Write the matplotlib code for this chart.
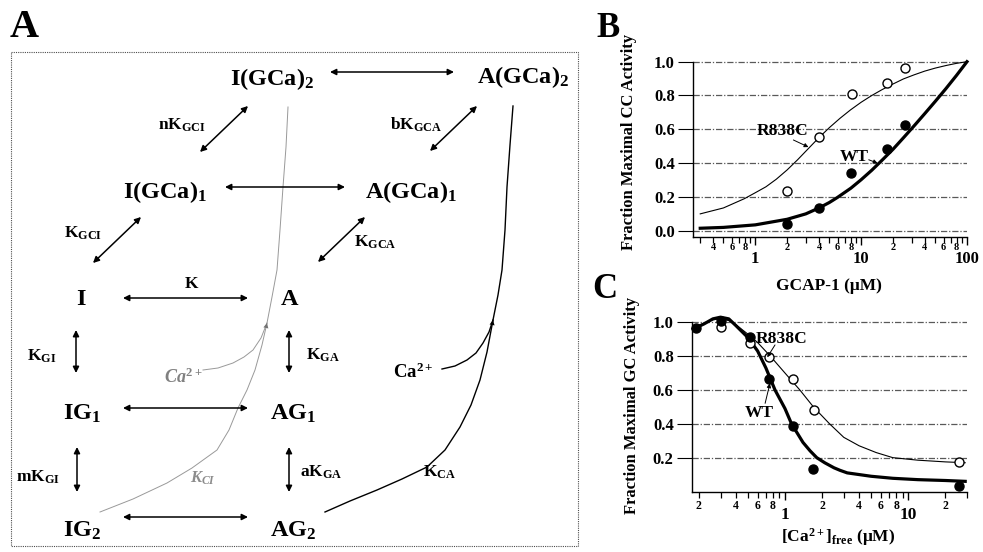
import math
import matplotlib
matplotlib.use('Agg')
import matplotlib.pyplot as plt
from matplotlib.patches import Rectangle
from matplotlib.ticker import FixedLocator, FixedFormatter

plt.rcParams['font.family'] = ['Liberation Serif', 'DejaVu Serif']
plt.rcParams['font.weight'] = 'bold'
plt.rcParams['axes.labelweight'] = 'bold'
plt.rcParams['mathtext.fontset'] = 'custom'
plt.rcParams['mathtext.rm'] = 'Liberation Serif:bold'
plt.rcParams['mathtext.bf'] = 'Liberation Serif:bold'
plt.rcParams['mathtext.it'] = 'Liberation Serif:italic'
plt.rcParams['mathtext.default'] = 'bf'

# ---------------- panel A: reaction scheme (pixel layout of the drawing) -------------
node_labels = ['I(GCa)$_2$', 'A(GCa)$_2$', 'I(GCa)$_1$', 'A(GCa)$_1$',
               'I', 'A', 'IG$_1$', 'AG$_1$', 'IG$_2$', 'AG$_2$']
node_xy = [(230, 85), (477, 83), (123, 198), (365, 198),
           (81, 305), (290, 305), (63, 420), (270, 420), (63, 537), (270, 537)]
node_ha = ['left', 'left', 'left', 'left', 'center', 'center',
           'left', 'left', 'left', 'left']

# two-headed arrows (start, end)
link_ends = [((330, 72), (454, 72)), ((225, 187), (345, 187)),
             ((123, 298), (248, 298)), ((123, 408), (248, 408)),
             ((123, 517), (248, 517)),
             ((200, 152), (248, 106)), ((430, 151), (477, 106)),
             ((93, 263), (141, 217)), ((318, 262), (365, 217)),
             ((76, 330), (76, 373)), ((77, 447), (77, 492)),
             ((289, 330), (289, 373)), ((289, 447), (289, 492))]

const_labels = ['nK$_{GCI}$', 'bK$_{GCA}$', 'K$_{GCI}$', 'K$_{GCA}$', 'K',
                'K$_{GI}$', 'mK$_{GI}$', 'K$_{GA}$', 'aK$_{GA}$', 'K$_{CA}$']
const_xy = [(182, 125), (416, 125), (83, 233), (375, 242), (191, 284),
            (42, 356), (38, 477), (323, 355), (321, 472), (440, 472)]

grey_path_x = [100, 133, 167, 192, 217, 229, 238, 247, 255, 262, 267, 272,
               277, 280, 283, 286, 288]
grey_path_y = [512, 499, 483, 468, 450, 430, 408, 390, 370, 345, 323, 297,
               270, 230, 187, 147, 107]
grey_ca_x = [203, 218, 233, 244, 253, 261, 267]
grey_ca_y = [370, 368, 363, 357, 350, 338, 323]
black_path_x = [325, 350, 377, 402, 427, 445, 460, 471, 480, 487, 493, 498,
                502, 505, 507, 510, 513]
black_path_y = [512, 501, 490, 479, 467, 450, 427, 405, 380, 352, 320, 295,
                270, 230, 187, 145, 106]
black_ca_x = [442, 455, 467, 476, 483, 489, 493]
black_ca_y = [369, 366, 360, 353, 343, 332, 320]

# ---------------- panel B: activity vs GCAP-1 ----------------
gcap_wt = [2, 4, 8, 17.5, 26]
act_wt = [0.04, 0.135, 0.34, 0.485, 0.625]
gcap_r838c = [2, 4, 8.2, 17.5, 26]
act_r838c = [0.235, 0.555, 0.81, 0.875, 0.96]

fitb_wt_x = [0.302, 0.5, 1, 2, 3, 4, 5, 6, 8, 10, 12.6, 15.8, 20, 25.1, 31.6,
             39.8, 50.1, 63.1, 79.4, 100]
fitb_wt_y = [0.015, 0.020, 0.035, 0.068, 0.100, 0.135, 0.167, 0.198, 0.252,
             0.302, 0.358, 0.418, 0.482, 0.550, 0.620, 0.692, 0.765, 0.840,
             0.918, 1.0]
fitb_mut_x = [0.302, 0.5, 0.79, 1, 1.26, 1.58, 2, 2.51, 3.16, 3.98, 5.01, 6.31,
              7.94, 10, 12.6, 15.8, 20, 25.1, 31.6, 39.8, 50.1, 63.1, 79.4, 100]
fitb_mut_y = [0.10, 0.135, 0.19, 0.225, 0.26, 0.305, 0.36, 0.42, 0.485, 0.55,
              0.61, 0.665, 0.715, 0.76, 0.80, 0.835, 0.868, 0.898, 0.922,
              0.944, 0.962, 0.977, 0.99, 1.0]

# ---------------- panel C: activity vs free Ca2+ ----------------
ca_wt = [0.19, 0.30, 0.52, 0.74, 1.17, 1.70, 25.9]
actc_wt = [0.965, 1.005, 0.915, 0.663, 0.389, 0.135, 0.033]
ca_r838c = [0.30, 0.52, 0.74, 1.17, 1.72, 25.9]
actc_r838c = [0.97, 0.876, 0.793, 0.665, 0.482, 0.176]

fitc_wt_x = [0.18, 0.22, 0.26, 0.3, 0.35, 0.4, 0.5, 0.6, 0.7, 0.83, 1.0, 1.13,
             1.4, 1.6, 1.81, 2.1, 2.5, 2.8, 3.2, 4, 5, 7.5, 12, 20, 29]
fitc_wt_y = [0.96, 0.99, 1.02, 1.03, 1.02, 0.98, 0.91, 0.83, 0.73, 0.60, 0.49,
             0.40, 0.29, 0.24, 0.20, 0.17, 0.14, 0.125, 0.11, 0.10, 0.09,
             0.078, 0.07, 0.065, 0.06]
fitc_mut_x = [0.18, 0.22, 0.26, 0.3, 0.35, 0.4, 0.5, 0.6, 0.76, 1.0, 1.32, 1.7,
              2.3, 3, 4, 5.5, 7.5, 12, 20, 29]
fitc_mut_y = [0.965, 0.995, 1.015, 1.02, 1.01, 0.985, 0.93, 0.88, 0.80, 0.70,
              0.60, 0.50, 0.40, 0.32, 0.27, 0.23, 0.20, 0.185, 0.175, 0.17]

y_ticks_b = [0.0, 0.2, 0.4, 0.6, 0.8, 1.0]
y_ticks_c = [0.2, 0.4, 0.6, 0.8, 1.0]
x_major_b = [1, 10, 100]
x_minor_b = [0.3, 0.4, 0.5, 0.6, 0.7, 0.8, 0.9, 2, 3, 4, 5, 6, 7, 8, 9,
             20, 30, 40, 50, 60, 70, 80, 90]
x_major_c = [1, 10]
x_minor_c = [0.2, 0.3, 0.4, 0.5, 0.6, 0.7, 0.8, 0.9, 2, 3, 4, 5, 6, 7, 8, 9, 20, 30]


def minor_label(v):
    d = int(round(v / 10 ** math.floor(math.log10(v))))
    return str(d) if d in (2, 4, 6, 8) else ''


W, H = 983, 552
fig = plt.figure(figsize=(W / 100, H / 100), dpi=100)

# --- scheme drawn in pixel coordinates ---
ax0 = fig.add_axes([0, 0, 1, 1])
ax0.set_xlim(0, W)
ax0.set_ylim(H, 0)
ax0.axis('off')

ax0.add_patch(Rectangle((10.7, 52), 567.3, 494, fill=False, ls=(0, (1, 1)),
                        lw=0.8, ec='0.3'))
for lab, (x, y), ha in zip(node_labels, node_xy, node_ha):
    ax0.text(x, y, lab, fontsize=17.5, ha=ha, va='baseline')
for (p0, p1) in link_ends:
    ax0.annotate('', xy=p1, xytext=p0,
                 arrowprops=dict(arrowstyle='<|-|>', lw=1.1, color='k',
                                 mutation_scale=9, shrinkA=0, shrinkB=0))
for lab, (x, y) in zip(const_labels, const_xy):
    ax0.text(x, y, lab, fontsize=12.5, ha='center', va='center')

ax0.plot(grey_path_x, grey_path_y, color='0.6', lw=0.7)
ax0.plot(grey_ca_x, grey_ca_y, color='0.6', lw=0.7)
ax0.annotate('', xy=(grey_path_x[10], grey_path_y[10]),
             xytext=(grey_path_x[9], grey_path_y[9]),
             arrowprops=dict(arrowstyle='-|>', color='0.45', lw=0.01,
                             mutation_scale=9, shrinkA=14, shrinkB=0))
ax0.plot(black_path_x, black_path_y, color='k', lw=1.0)
ax0.plot(black_ca_x, black_ca_y, color='k', lw=1.0)
ax0.annotate('', xy=(black_path_x[10], black_path_y[10]),
             xytext=(black_path_x[9], black_path_y[9]),
             arrowprops=dict(arrowstyle='-|>', color='k', lw=0.01,
                             mutation_scale=9, shrinkA=20, shrinkB=0))
ax0.text(183, 377, r'$\mathit{Ca^{2+}}$', fontsize=13, color='0.5',
         ha='center', va='center')
ax0.text(203, 478, r'$\mathit{K_{CI}}$', fontsize=12, color='0.55',
         ha='center', va='center')
ax0.text(413, 372, 'Ca$^{2+}$', fontsize=13.5, ha='center', va='center')

ax0.text(10, 37, 'A', fontsize=29, va='baseline', ha='left')
ax0.text(596, 37, 'B', fontsize=25, va='baseline', ha='left')
ax0.text(592, 298, 'C', fontsize=25, va='baseline', ha='left')

grid_kw = dict(color='0.35', lw=0.9, ls=(0, (5, 1.5, 1, 1.5)))


def style_axis(ax, major, minor, minor_fs, major_fs, major_pad, minor_pad):
    ax.set_xscale('log')
    ax.xaxis.set_major_locator(FixedLocator(major))
    ax.xaxis.set_major_formatter(FixedFormatter([str(v) for v in major]))
    ax.xaxis.set_minor_locator(FixedLocator(minor))
    ax.xaxis.set_minor_formatter(FixedFormatter([minor_label(v) for v in minor]))
    ax.tick_params(axis='x', which='major', length=6, width=1.0,
                   labelsize=major_fs, pad=major_pad)
    ax.tick_params(axis='x', which='minor', length=4, width=0.9,
                   labelsize=minor_fs, pad=minor_pad)
    ax.tick_params(axis='y', length=11, width=0.8, labelsize=12, pad=2)
    ax.spines['top'].set_visible(False)
    ax.spines['right'].set_visible(False)
    ax.spines['left'].set_linewidth(1.0)
    ax.spines['bottom'].set_linewidth(1.0)
    ax.patch.set_alpha(0)
    ax.set_axisbelow(True)
    ax.yaxis.grid(True, **grid_kw)


# --- panel B ---
axb = fig.add_axes([693 / W, 1 - 236.7 / H, 274 / W, 180.1 / H])
axb.plot(fitb_mut_x, fitb_mut_y, color='k', lw=0.8, clip_on=False)
axb.plot(fitb_wt_x, fitb_wt_y, color='k', lw=2.3, clip_on=False)
axb.plot(gcap_r838c, act_r838c, 'o', ms=6.5, mfc='white', mec='k', mew=1.0,
         clip_on=False)
axb.plot(gcap_wt, act_wt, 'o', ms=6.5, color='k', clip_on=False)
axb.set_xlim(0.258, 100)
axb.set_ylim(-0.035, 1.03)
axb.set_yticks(y_ticks_b)
axb.set_yticklabels(['%.1f' % v for v in y_ticks_b])
axb.spines['left'].set_bounds(-0.035, 1.0)
style_axis(axb, x_major_b, x_minor_b, 7.5, 12, 4, 0.3)
axb.set_xlabel('GCAP-1 (μM)', fontsize=12.5)
axb.xaxis.set_label_coords(0.496, -0.274)
axb.xaxis.label.set_va('center')
axb.set_ylabel('Fraction Maximal CC Activity', fontsize=12, va='center')
axb.yaxis.set_label_coords(-0.234, 0.526)
axb.text(1.8, 0.59, 'R838C', fontsize=12.5, ha='center', va='center')
axb.annotate('', xy=(3.18, 0.495), xytext=(2.29, 0.537),
             arrowprops=dict(arrowstyle='-|>', lw=0.7, color='k',
                             mutation_scale=6, shrinkA=0, shrinkB=0))
axb.text(8.67, 0.436, 'WT', fontsize=12.5, ha='center', va='center')
axb.annotate('', xy=(14.3, 0.40), xytext=(11.8, 0.42),
             arrowprops=dict(arrowstyle='-|>', lw=0.7, color='k',
                             mutation_scale=6, shrinkA=0, shrinkB=0))

# --- panel C ---
axc = fig.add_axes([691.7 / W, 1 - 491.5 / H, 275.3 / W, 179.4 / H])
axc.plot(fitc_mut_x, fitc_mut_y, color='k', lw=0.8, clip_on=False)
axc.plot(fitc_wt_x, fitc_wt_y, color='k', lw=2.3, clip_on=False)
axc.plot(ca_r838c, actc_r838c, 'o', ms=6.5, mfc='white', mec='k', mew=1.0,
         clip_on=False)
axc.plot(ca_wt, actc_wt, 'o', ms=6.5, color='k', clip_on=False)
axc.set_xlim(0.175, 30)
axc.set_ylim(0, 1.06)
axc.set_yticks(y_ticks_c)
axc.set_yticklabels(['%.1f' % v for v in y_ticks_c])
axc.spines['left'].set_bounds(0, 1.0)
style_axis(axc, x_major_c, x_minor_c, 8.5, 12.5, 5.5, 2)
axc.set_xlabel('[Ca$^{2+}$]$_{free}$ (μM)', fontsize=12.5)
axc.xaxis.set_label_coords(0.531, -0.254)
axc.xaxis.label.set_va('center')
axc.set_ylabel('Fraction Maximal GC Activity', fontsize=12, va='center')
axc.yaxis.set_label_coords(-0.217, 0.477)
axc.text(0.93, 0.904, 'R838C', fontsize=12.5, ha='center', va='center')
axc.annotate('', xy=(0.718, 0.793), xytext=(0.83, 0.866),
             arrowprops=dict(arrowstyle='-|>', lw=0.7, color='k',
                             mutation_scale=6, shrinkA=0, shrinkB=0))
axc.text(0.615, 0.464, 'WT', fontsize=12.5, ha='center', va='center')
axc.annotate('', xy=(0.755, 0.639), xytext=(0.69, 0.521),
             arrowprops=dict(arrowstyle='-|>', lw=0.7, color='k',
                             mutation_scale=6, shrinkA=0, shrinkB=0))

fig.savefig('out.png', dpi=100)
